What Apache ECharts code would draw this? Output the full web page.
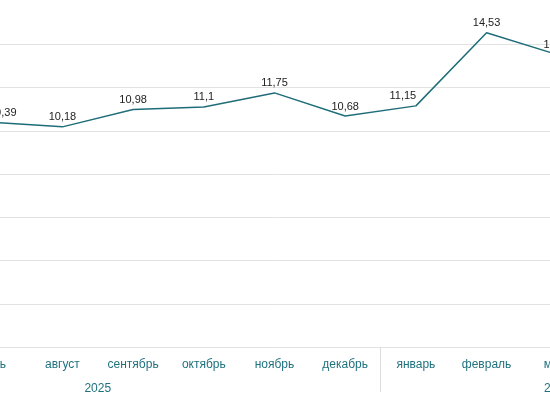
<!DOCTYPE html>
<html>
<head>
<meta charset="utf-8">
<script src="https://cdn.jsdelivr.net/npm/echarts@6/dist/echarts.min.js"></script>
<style>
  html, body { margin: 0; padding: 0; width: 550px; height: 410px; overflow: hidden; background: #fff; }
  #graph { position: absolute; left: -200px; top: -2px; width: 1150px; height: 412px; }
</style>
</head>
<body>
<div id="graph"></div>
<script>
// месяцы май 2025 - май 2026
var months = ['май', 'июнь', 'июль', 'август', 'сентябрь', 'октябрь', 'ноябрь', 'декабрь',
              'январь', 'февраль', 'март', 'апрель', 'май'];
var values = ['-', '-', 10.39, 10.18, 10.98, 11.1, 11.75, 10.68, 11.15, 14.53, 13.52, '-', '-'];
var years = ['2025', '2026'];
var yearMonths = [8, 5];
var yTicks = [0, 2, 4, 6, 8, 10, 12, 14, 16];

var yearCenters = [];
var yearBounds = [0];
var acc = 0;
for (var i = 0; i < years.length; i++) {
    yearCenters.push(acc + yearMonths[i] / 2);
    acc += yearMonths[i];
    yearBounds.push(acc);
}

var teal = '#1f6d78';
var fontFamily = '"Liberation Sans", Arial, sans-serif';

var option = {
    animation: false,
    grid: {left: 15, top: 3, width: 919, height: 346, outerBoundsMode: 'none', containLabel: false},
    xAxis: [{
        type: 'category',
        data: months,
        boundaryGap: true,
        axisLine: {show: false},
        axisTick: {show: false},
        axisLabel: {color: '#1f727e', fontSize: 12, fontFamily: fontFamily, margin: 12, interval: 0}
    }, {
        type: 'value',
        position: 'bottom',
        min: 0,
        max: months.length,
        axisLine: {show: false},
        splitLine: {show: false},
        axisTick: {show: true, customValues: yearBounds, length: 45, lineStyle: {color: '#dcdcdc', width: 1}},
        axisLabel: {
            customValues: yearCenters,
            color: '#1f727e', fontSize: 12, fontFamily: fontFamily, margin: 36,
            formatter: function(v) {
                var k = yearCenters.indexOf(v);
                return k >= 0 ? years[k] : '';
            }
        }
    }],
    yAxis: {
        type: 'value',
        min: yTicks[0],
        max: yTicks[yTicks.length - 1],
        interval: 2,
        axisLine: {show: false},
        axisTick: {show: false},
        axisLabel: {color: '#444', fontSize: 11, fontFamily: fontFamily},
        splitLine: {showMaxLine: false, lineStyle: {color: '#e2e2e2', width: 1}}
    },
    series: [{
        type: 'line',
        data: values,
        xAxisIndex: 0,
        symbol: 'circle',
        symbolSize: 0,
        lineStyle: {color: teal, width: 1.5},
        itemStyle: {color: teal},
        label: {
            show: true,
            position: 'top',
            distance: 4,
            color: '#222',
            fontSize: 11,
            fontFamily: fontFamily,
            formatter: function(p) { return String(p.value).replace('.', ','); }
        },
        // подписи сдвинуты, чтобы не налезать на линию
        labelLayout: function(p) {
            if (p.dataIndex === 2) return {dx: 11};
            if (p.dataIndex === 8) return {dx: -13};
            return {};
        }
    }]
};

var chart = echarts.init(document.getElementById('graph'));
chart.setOption(option);
</script>
</body>
</html>
